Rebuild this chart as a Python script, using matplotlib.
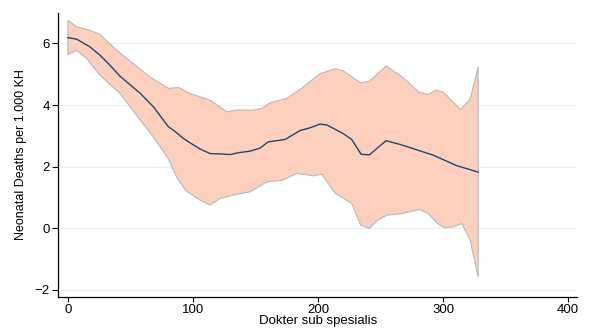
import matplotlib
matplotlib.use("Agg")
import matplotlib.pyplot as plt
import numpy as np

plt.rcParams['font.family'] = ['Liberation Sans', 'DejaVu Sans']

# fitted line
x_fit = [0, 7, 17.6, 25.6, 33, 41.8, 57.8, 68.4, 80.4, 84.4, 92.4, 97.7, 105.7,
         113.7, 121.7, 129.7, 136.3, 145.6, 153.6, 160, 173.6, 185.6, 193.6,
         201.6, 207, 212.3, 220.2, 226.9, 234.4, 241, 254.3, 265.5, 292.1,
         310.8, 328]
y_fit = [6.19, 6.14, 5.89, 5.62, 5.32, 4.93, 4.38, 3.94, 3.29, 3.18, 2.91, 2.77, 2.57,
         2.42, 2.41, 2.39, 2.45, 2.50, 2.60, 2.80, 2.88, 3.17, 3.26,
         3.38, 3.35, 3.24, 3.07, 2.88, 2.40, 2.38, 2.84, 2.72, 2.37,
         2.03, 1.82]

# upper confidence bound
x_up = [0, 7, 17.6, 25.6, 39, 52, 65.6, 80.4, 88.4, 97.7, 113.7, 127, 135.5,
        148, 155, 162, 175, 186, 201.6, 214, 220, 234, 241, 254.4, 268, 281,
        288, 294, 300, 314, 321.6, 328]
y_up = [6.75, 6.54, 6.43, 6.29, 5.78, 5.35, 4.91, 4.54, 4.57, 4.37, 4.16, 3.78, 3.84,
        3.83, 3.89, 4.08, 4.21, 4.52, 5.02, 5.18, 5.11, 4.72, 4.77, 5.27, 4.89, 4.41,
        4.34, 4.48, 4.42, 3.85, 4.19, 5.24]

# lower confidence bound
x_lo = [0, 7, 15, 25.6, 41.8, 57.8, 68.4, 80.4, 87, 94, 105.6, 113.6, 121.6,
        132, 145.6, 159, 172, 183, 196, 203, 213.6, 227, 234, 241, 247.5,
        255, 268, 281, 288, 295, 301, 308, 315, 321.6, 328]
y_lo = [5.64, 5.78, 5.51, 4.97, 4.37, 3.51, 2.96, 2.25, 1.65, 1.23, 0.91, 0.75, 0.96,
        1.07, 1.18, 1.50, 1.56, 1.78, 1.70, 1.75, 1.13, 0.80, 0.10, -0.01, 0.26,
        0.42, 0.48, 0.61, 0.48, 0.17, 0.01, 0.04, 0.15, -0.39, -1.58]

xticks = [0, 100, 200, 300, 400]
yticks = [-2, 0, 2, 4, 6]

fig = plt.figure(figsize=(5.93, 3.31), dpi=100)
ax = fig.add_axes([0.0983, 0.1027, 0.8747, 0.8589])

ax.fill(np.r_[x_up, x_lo[::-1]], np.r_[y_up, y_lo[::-1]],
        facecolor='#fdd0bd', edgecolor='#bdbdbd', linewidth=0.9, zorder=2)
ax.plot(x_fit, y_fit, color='#1a476f', linewidth=1.0, zorder=3)

ax.set_xlim(-7.7, 407)
ax.set_ylim(-2.24, 7.0)
ax.set_xticks(xticks)
ax.set_yticks(yticks)
ax.yaxis.grid(True, color='#e8f0f2', linewidth=0.9, zorder=0)
ax.set_axisbelow(True)

for s in ['top', 'right']:
    ax.spines[s].set_visible(False)
for s in ['left', 'bottom']:
    ax.spines[s].set_linewidth(0.9)

ax.tick_params(axis='x', labelsize=9.5, length=3.6, width=0.8, pad=1.5)
ax.tick_params(axis='y', labelsize=9.5, length=4.5, width=0.8, pad=1.5)
ax.set_ylabel('Neonatal Deaths per 1.000 KH', fontsize=9, labelpad=5.5)
ax.set_xlabel('Dokter sub spesialis', fontsize=9.5, labelpad=-0.5)

fig.savefig('out.png', dpi=100)
